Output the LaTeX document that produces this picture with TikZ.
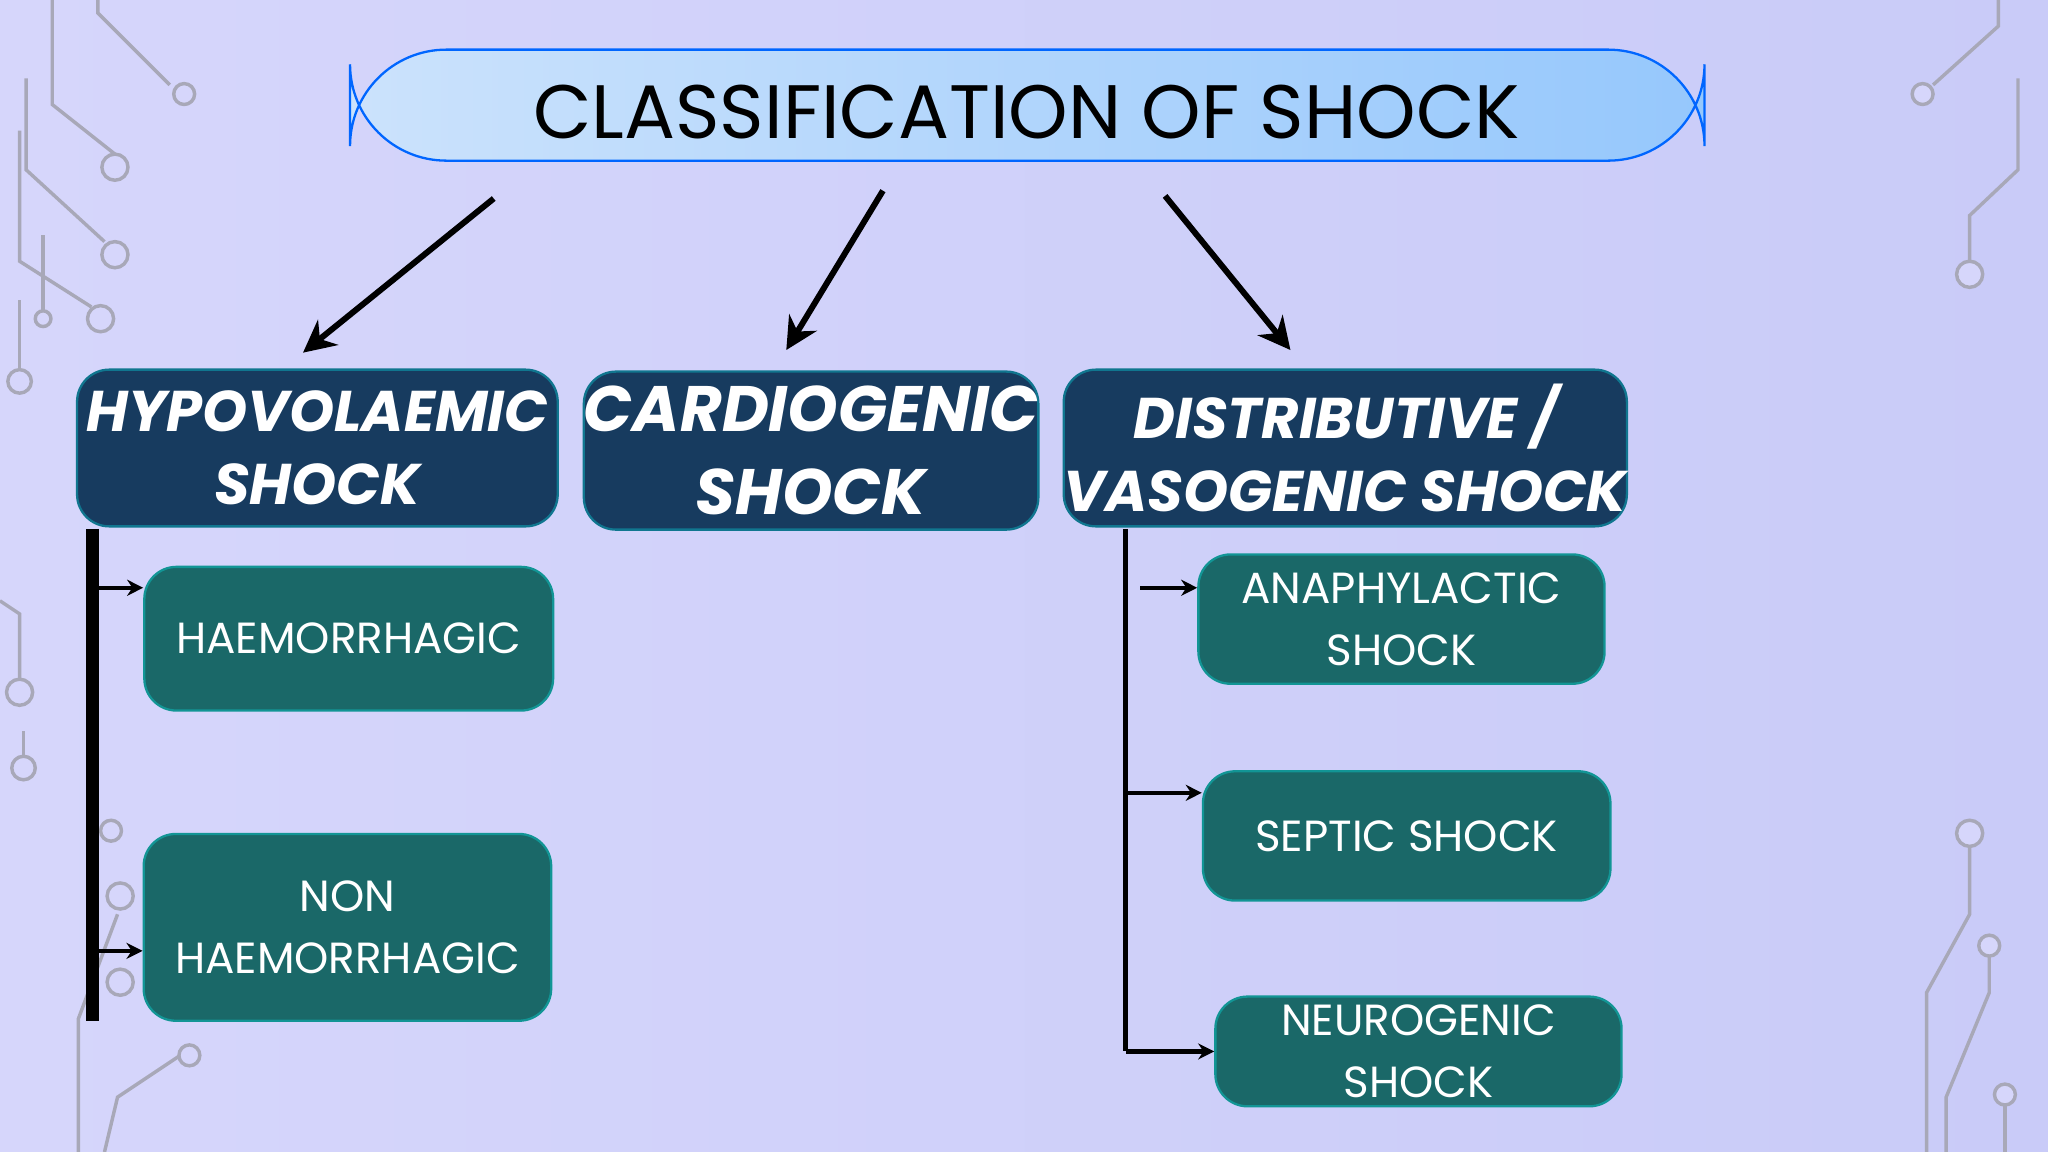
\documentclass[tikz,border=0pt]{standalone}
\usepackage{fontspec}
\setmainfont{Poppins}
\usetikzlibrary{arrows.meta,shadings}
\definecolor{bgA}{HTML}{D6D6FB}
\definecolor{bgB}{HTML}{C9CBF8}
\definecolor{navy}{HTML}{173B5F}
\definecolor{teal}{HTML}{1A6868}
\definecolor{circ}{HTML}{A8A8B8}
\begin{document}
\begin{tikzpicture}[x=0.02cm,y=-0.02cm,
  dark/.style={draw=navy!70!cyan,line width=1pt,fill=navy,rounded corners=14,text=white,font=\fontsize{25}{32}\selectfont\bfseries\itshape,align=center,inner sep=0},
  tl/.style={draw=teal!70!cyan,line width=1pt,fill=teal,rounded corners=14,text=white,font=\fontsize{19}{27}\selectfont,align=center,inner sep=0},
  arr/.style={line width=2.6pt,-{Stealth[length=14pt,width=14pt]}},
  sarr/.style={line width=1.8pt,-{Stealth[length=7pt,width=7pt]}},
  cl/.style={circ,line width=1.5pt},
  cc/.style={circ,line width=1.5pt,fill=bgA}]
\shade[left color=bgA,right color=bgB] (0,0) rectangle (1568,882);
\useasboundingbox (0,0) rectangle (1568,882);
% circuit decorations
\draw[cl] (75,0)--(75,10)--(130,65); \draw[cc] (141,72) circle (8);
\draw[cl] (40,0)--(40,80)--(88,118); \draw[cc] (88,128) circle (10);
\draw[cl] (20,60)--(20,130)--(80,185); \draw[cc] (88,195) circle (10);
\draw[cl] (15,100)--(15,200)--(70,235); \draw[cc] (77,244) circle (10);
\draw[cl] (33,180)--(33,238); \draw[cc] (33,244) circle (6);
\draw[cl] (15,230)--(15,285); \draw[cc] (15,292) circle (9);
\draw[cl] (0,460)--(15,470)--(15,520); \draw[cc] (15,530) circle (10);
\draw[cl] (18,560)--(18,580); \draw[cc] (18,588) circle (9);
\draw[cc] (85,636) circle (8); \draw[cc] (92,686) circle (10); \draw[cc] (92,752) circle (10);
\draw[cl] (60,882)--(60,780)--(90,700);
\draw[cl] (80,882)--(90,840)--(138,808); \draw[cc] (145,808) circle (8);
\draw[cl] (1530,0)--(1530,20)--(1480,65); \draw[cc] (1472,72) circle (8);
\draw[cl] (1545,60)--(1545,130)--(1508,165)--(1508,200); \draw[cc] (1508,210) circle (10);
\draw[cl] (1508,645)--(1508,700)--(1475,760)--(1475,882); \draw[cc] (1508,638) circle (10);
\draw[cl] (1523,732)--(1523,760)--(1490,840)--(1490,882); \draw[cc] (1523,724) circle (8);
\draw[cl] (1535,845)--(1535,882); \draw[cc] (1535,838) circle (8);
% title
\shade[rounded corners=42,left color=white!70!cyan!30!bgA,right color=blue!35!cyan!30!bgA] (268,38) rectangle (1305,123);
\draw[blue!60!cyan,line width=1pt,rounded corners=42] (268,38) rectangle (1305,123);
\node (title) at (786,86) {\fontsize{33}{40}\selectfont CLASSIFICATION OF SHOCK};
% main boxes
\node[dark,minimum width=368*0.02cm,minimum height=120*0.02cm] (hypo) at (243,343) {HYPOVOLAEMIC\\SHOCK};
\node[dark,minimum width=348*0.02cm,minimum height=121*0.02cm,font=\fontsize{28}{36}\selectfont\bfseries\itshape] (card) at (621,345) {CARDIOGENIC\\SHOCK};
\node[dark,minimum width=431*0.02cm,minimum height=120*0.02cm] (dist) at (1030,343) {DISTRIBUTIVE /\\VASOGENIC SHOCK};
\coordinate (t1) at (378,152); \coordinate (t2) at (676,146); \coordinate (t3) at (892,150);
\draw[arr] (t1)--(232,270);
\draw[arr] (t2)--(602,268);
\draw[arr] (t3)--(988,268);
% sub boxes
\node[tl,minimum width=313*0.02cm,minimum height=110*0.02cm] (haem) at (267,489) {HAEMORRHAGIC};
\node[tl,minimum width=312*0.02cm,minimum height=143*0.02cm] (non) at (266,710) {NON\\HAEMORRHAGIC};
\node[tl,minimum width=311*0.02cm,minimum height=99*0.02cm] (ana) at (1073,474) {ANAPHYLACTIC\\SHOCK};
\node[tl,minimum width=312*0.02cm,minimum height=99*0.02cm] (sep) at (1077,640) {SEPTIC SHOCK};
\node[tl,minimum width=311*0.02cm,minimum height=84*0.02cm] (neu) at (1086,805) {NEUROGENIC\\SHOCK};
% left bracket
\coordinate (l0) at (71,405); \coordinate (l1) at (71,782);
\draw[line width=5.5pt] (l0)--(l1);
\coordinate (la) at (71,450); \coordinate (lb) at (71,728);
\draw[sarr] (la)--(haem.west|-la);
\draw[sarr] (lb)--(non.west|-lb);
% right bracket
\coordinate (r0) at (862,405); \coordinate (r1) at (862,805);
\draw[line width=2.2pt] (r0)--(r1);
\coordinate (ra) at (873,450); \coordinate (rb) at (862,607);
\draw[sarr] (ra)--(ana.west|-ra);
\draw[sarr] (rb)--(sep.west|-rb);
\draw[sarr] (r1)--(neu.west|-r1);
\end{tikzpicture}
\end{document}
